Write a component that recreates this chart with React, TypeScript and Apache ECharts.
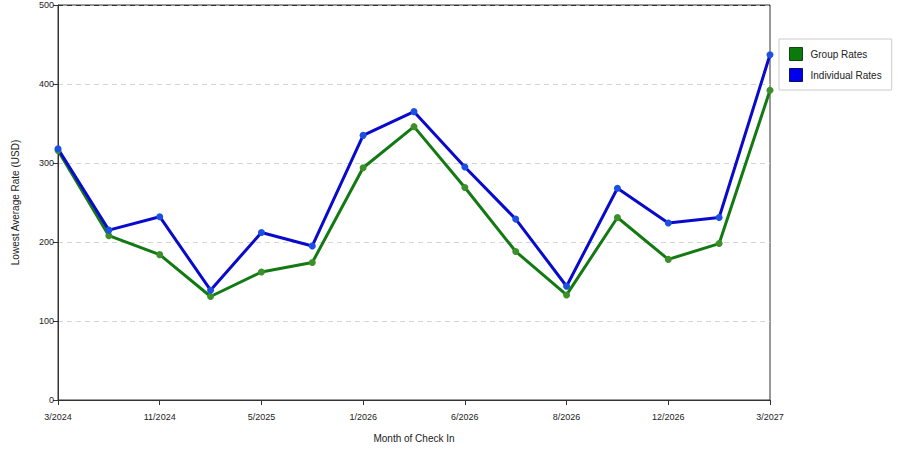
import React, { useEffect, useRef } from "react";
import * as echarts from "echarts";

const months = [
  "3/2024", "7/2024", "11/2024", "2/2025", "5/2025", "9/2025", "1/2026", "3/2026",
  "6/2026", "7/2026", "8/2026", "10/2026", "12/2026", "1/2027", "3/2027",
];
const groupRates = [316, 208, 184, 131, 162, 174, 294, 346, 269, 188, 133, 231, 178, 198, 392];
const individualRates = [318, 215, 232, 139, 212, 195, 335, 365, 295, 229, 144, 268, 224, 231, 437];

const font = "Liberation Sans, Arial, sans-serif";
const grid = "#d4d4d4";

const App: React.FC = () => {
  const chartRef = useRef<HTMLDivElement>(null);

  useEffect(() => {
    if (!chartRef.current) return;
    const chart = echarts.init(chartRef.current, undefined, { renderer: "svg" });

    const option: echarts.EChartsOption = {
      animation: false,
      textStyle: { fontFamily: font },
      grid: {
        left: 58,
        right: 130,
        top: 5,
        bottom: 50,
        show: true,
        borderColor: "#333",
        borderWidth: 1,
      },
      legend: {
        orient: "vertical",
        left: 779,
        top: 39,
        width: 110,
        padding: [8, 10, 8, 10],
        borderColor: "#ccc",
        borderWidth: 1,
        itemWidth: 13,
        itemHeight: 13,
        itemGap: 7,
        icon: "rect",
        textStyle: { fontSize: 10, color: "#222", fontFamily: font, padding: [0, 0, 0, 3] },
        data: [
          { name: "Group Rates", itemStyle: { color: "#0a7a0a", borderColor: "#124512", borderWidth: 1 } },
          { name: "Individual Rates", itemStyle: { color: "#0000ee", borderColor: "#10105a", borderWidth: 1 } },
        ],
      },
      xAxis: {
        type: "category",
        boundaryGap: false,
        data: months,
        name: "Month of Check In",
        nameLocation: "middle",
        nameGap: 33,
        nameTextStyle: { fontSize: 10, color: "#222", fontFamily: font },
        axisLine: { lineStyle: { color: "#333" } },
        axisTick: { interval: 1, length: 5, lineStyle: { color: "#333" } },
        axisLabel: { interval: 1, fontSize: 9, color: "#222", margin: 12, fontFamily: font },
        splitLine: { show: false },
      },
      yAxis: {
        type: "value",
        min: 0,
        max: 500,
        interval: 100,
        name: "Lowest Average Rate (USD)",
        nameLocation: "middle",
        nameGap: 38,
        nameTextStyle: { fontSize: 10, color: "#222", fontFamily: font },
        axisLine: { show: true, lineStyle: { color: "#333" } },
        axisTick: { show: true, length: 5, lineStyle: { color: "#333" } },
        axisLabel: { fontSize: 9, color: "#222", margin: 4, fontFamily: font },
        splitLine: {
          show: true,
          lineStyle: { color: [grid, grid, grid, grid, grid, "#333"], type: [5, 4] },
        },
      },
      series: [
        {
          name: "Group Rates",
          type: "line",
          data: groupRates,
          symbol: "circle",
          symbolSize: 7,
          lineStyle: { color: "#137a13", width: 3 },
          itemStyle: { color: "#3d8f2a" },
          color: "#0a7a0a",
        },
        {
          name: "Individual Rates",
          type: "line",
          data: individualRates,
          symbol: "circle",
          symbolSize: 7,
          lineStyle: { color: "#0a0acc", width: 3 },
          itemStyle: { color: "#1c50e0" },
          color: "#0000ee",
        },
      ],
    };

    chart.setOption(option);
    return () => {
      chart.dispose();
    };
  }, []);

  return (
    <div
      ref={chartRef}
      style={{ position: "fixed", left: 0, top: 0, width: 900, height: 450, background: "#fff" }}
    />
  );
};

export default App;
